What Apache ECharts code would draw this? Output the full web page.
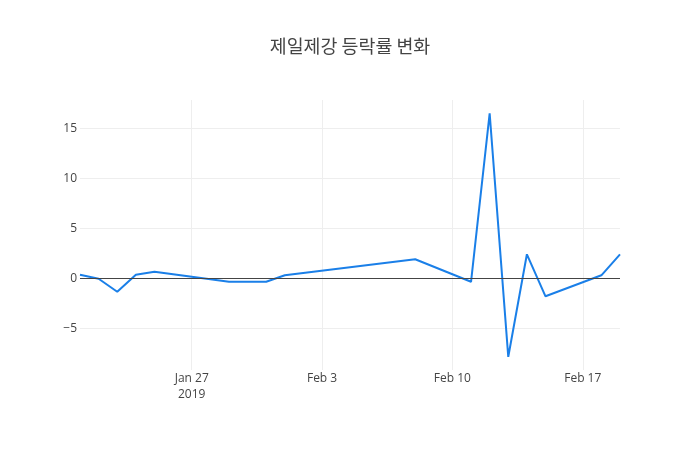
<!DOCTYPE html>
<html>
<head>
<meta charset="utf-8">
<script src="https://cdn.jsdelivr.net/npm/echarts@6/dist/echarts.min.js"></script>
<style>
  html, body { margin: 0; padding: 0; background: #fff; }
  #chart { width: 700px; height: 450px; }
</style>
</head>
<body>
<div id="chart"></div>
<script>
const title = '제일제강 등락률 변화'
const dates = ['2019-01-21', '2019-01-22', '2019-01-23', '2019-01-24', '2019-01-25',
  '2019-01-29', '2019-01-30', '2019-01-31', '2019-02-01', '2019-02-08',
  '2019-02-11', '2019-02-12', '2019-02-13', '2019-02-14', '2019-02-15',
  '2019-02-18', '2019-02-19']
const changes = [0.35, -0.05, -1.35, 0.35, 0.65,
  -0.35, -0.35, -0.35, 0.3, 1.9,
  -0.35, 16.5, -7.85, 2.4, -1.8,
  0.3, 2.4]
const tickDates = ['2019-01-27', '2019-02-03', '2019-02-10', '2019-02-17']
const tickLabels = ['Jan 27\n2019', 'Feb 3', 'Feb 10', 'Feb 17']
const yTicks = [-5, 0, 5, 10, 15]

// days counted from the first weekly tick
const DAY = 86400000
const base = Date.parse(tickDates[0])
const toDay = d => Math.round((Date.parse(d) - base) / DAY)

const seriesData = dates.map((d, i) => [toDay(d), changes[i]])
const xTicks = tickDates.map(toDay)
const labelByDay = {}
tickDates.forEach((d, i) => { labelByDay[toDay(d)] = tickLabels[i] })

const chart = echarts.init(document.getElementById('chart'))
const option = {
  backgroundColor: '#fff',
  animation: false,
  title: {
    text: title,
    left: 'center',
    top: 32,
    textStyle: {
      fontFamily: '"Noto Sans CJK KR", "Open Sans", sans-serif',
      fontSize: 18.4,
      fontWeight: 'normal',
      color: '#444'
    }
  },
  grid: {
    left: 80,
    right: 80,
    top: 100,
    bottom: 80
  },
  xAxis: {
    type: 'value',
    min: toDay('2019-01-21'),
    max: toDay('2019-02-19'),
    axisLine: { show: false },
    axisTick: { show: false, customValues: xTicks },
    axisLabel: {
      customValues: xTicks,
      color: '#444',
      fontFamily: '"Open Sans", sans-serif',
      fontSize: 12,
      lineHeight: 16,
      margin: 1,
      formatter: v => labelByDay[v] || ''
    },
    splitLine: {
      show: true,
      lineStyle: { color: '#eee', width: 1 }
    }
  },
  yAxis: {
    type: 'value',
    min: -9.17,
    max: 17.83,
    axisLine: { show: false },
    axisTick: { show: false, customValues: yTicks },
    axisLabel: {
      customValues: yTicks,
      color: '#444',
      fontFamily: '"Open Sans", sans-serif',
      fontSize: 12,
      margin: 3,
      formatter: v => String(v).replace('-', '\u2212')
    },
    splitLine: {
      show: true,
      lineStyle: { color: '#eee', width: 1 }
    }
  },
  series: [
    {
      name: title,
      type: 'line',
      data: seriesData,
      showSymbol: false,
      lineStyle: { color: '#1a7fe8', width: 2 },
      itemStyle: { color: '#1a7fe8' },
      markLine: {
        silent: true,
        symbol: 'none',
        label: { show: false },
        lineStyle: { color: '#444', width: 1, type: 'solid' },
        data: [{ yAxis: 0 }]
      }
    }
  ]
}
chart.setOption(option)
</script>
</body>
</html>
